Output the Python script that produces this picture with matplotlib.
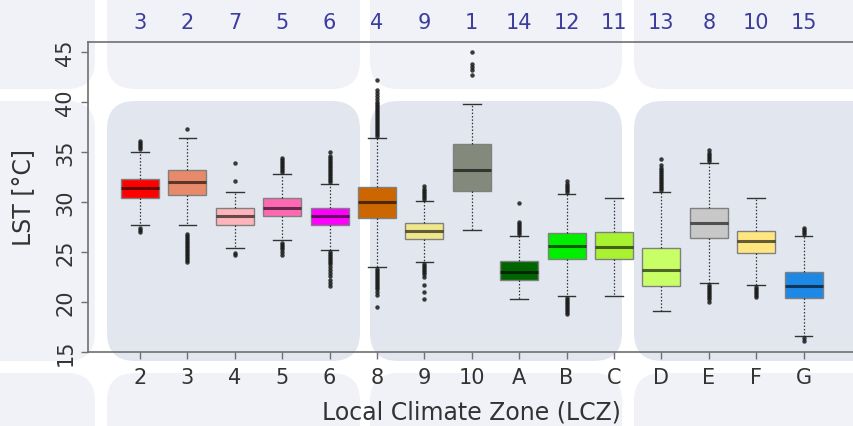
import matplotlib
matplotlib.use('Agg')
import matplotlib.pyplot as plt
from matplotlib.patches import FancyBboxPatch

# LCZ classes, in plotting order, with their rank labels shown above
zones = ['2', '3', '4', '5', '6', '8', '9', '10', 'A', 'B', 'C', 'D', 'E', 'F', 'G']
ranks = ['3', '2', '7', '5', '6', '4', '9', '1', '14', '12', '11', '13', '8', '10', '15']
colors = ['#ff0000', '#e8896a', '#ffb3ba', '#ff69b4', '#ff00ff', '#cc6600', '#f0e68c',
          '#838a7c', '#006400', '#00ee00', '#a8f232', '#c8ff66', '#c8c8c8', '#ffe680', '#1e88e5']

# box statistics (LST, deg C)
q1 = [30.4, 30.7, 27.7, 28.6, 27.7, 28.4, 26.3, 31.1, 22.2, 24.3, 24.3, 21.6, 26.4, 24.9, 20.4]
med = [31.4, 32.0, 28.6, 29.4, 28.6, 30.0, 27.1, 33.2, 23.0, 25.6, 25.5, 23.2, 27.9, 26.1, 21.6]
q3 = [32.3, 33.2, 29.4, 30.4, 29.4, 31.5, 27.9, 35.8, 24.1, 26.9, 27.0, 25.4, 29.4, 27.1, 23.0]
whislo = [27.7, 27.7, 25.4, 26.2, 25.2, 23.5, 24.0, 27.2, 20.3, 20.6, 20.6, 19.1, 21.9, 21.7, 16.6]
whishi = [35.0, 36.4, 31.0, 32.8, 31.8, 36.4, 30.1, 39.8, 26.6, 30.8, 30.4, 31.0, 33.9, 30.4, 26.6]

fliers = [
    [35.3, 35.5, 35.7, 35.9, 36.1, 27.4, 27.2, 27.0],
    [37.3, 26.8, 26.6, 26.4, 26.2, 26.0, 25.8, 25.6, 25.4, 25.2, 25.0, 24.8, 24.6, 24.4, 24.2, 24.0],
    [32.1, 33.9, 24.9, 24.7],
    [33.0, 33.2, 33.4, 33.6, 33.8, 34.0, 34.2, 34.4, 25.9, 25.7, 25.5, 25.3, 25.0, 24.7],
    [32.0, 32.2, 32.4, 32.6, 32.8, 33.0, 33.2, 33.4, 33.6, 33.8, 34.0, 34.2, 34.4, 34.6, 35.0,
     25.0, 24.8, 24.6, 24.4, 24.2, 24.0, 23.8, 23.5, 23.2, 22.9, 22.6, 22.2, 21.9, 21.6],
    [36.6, 36.8, 37.0, 37.2, 37.4, 37.6, 37.8, 38.0, 38.2, 38.4, 38.6, 38.8, 39.0, 39.2, 39.4,
     39.6, 39.8, 40.0, 40.3, 40.6, 40.9, 41.2, 42.2,
     23.3, 23.1, 22.9, 22.7, 22.5, 22.3, 22.1, 21.9, 21.7, 21.5, 21.3, 21.0, 20.7, 19.5],
    [30.3, 30.5, 30.7, 30.9, 31.1, 31.3, 31.6, 23.8, 23.6, 23.4, 23.2, 23.0, 22.8, 22.5, 21.7,
     21.0, 20.3],
    [42.7, 43.2, 43.5, 43.8, 45.0],
    [26.8, 27.0, 27.2, 27.4, 27.6, 27.8, 28.0, 29.9],
    [31.0, 31.2, 31.4, 31.6, 31.8, 32.1, 20.4, 20.2, 20.0, 19.8, 19.6, 19.4, 19.2, 19.0, 18.8],
    [],
    [31.2, 31.4, 31.6, 31.8, 32.0, 32.2, 32.4, 32.6, 32.8, 33.0, 33.2, 33.4, 33.7, 34.3],
    [34.1, 34.3, 34.5, 34.7, 34.9, 35.2, 21.7, 21.5, 21.3, 21.1, 20.9, 20.7, 20.5, 20.3, 20.0],
    [21.5, 21.3, 21.1, 20.9, 20.7, 20.5],
    [26.8, 27.0, 27.2, 27.4, 16.4, 16.1],
]

W, H = 854, 427
fig = plt.figure(figsize=(W / 100, H / 100), dpi=100)
fig.patch.set_facecolor('white')

# rounded background tiles on a full-figure axes, pixel units from the top-left
bg = fig.add_axes([0, 0, 1, 1], zorder=-1)
bg.set_xlim(0, W)
bg.set_ylim(H, 0)
bg.axis('off')
tile_cols = [(-30, 95), (107, 360), (370, 622), (634, 890)]
tile_rows = [(-30, 90), (102, 362), (374, 460)]
for r, (y0, y1) in enumerate(tile_rows):
    for c, (x0, x1) in enumerate(tile_cols):
        shade = '#e2e7ef' if (r == 1 and c > 0) else '#f0f2f7'
        bg.add_patch(FancyBboxPatch((x0, y0), x1 - x0, y1 - y0,
                                    boxstyle='round,pad=0,rounding_size=28',
                                    facecolor=shade, edgecolor='none'))

ax = fig.add_axes([88 / W, (H - 353) / H, (W - 88) / W, 310 / H])
ax.patch.set_alpha(0)

stats = []
for i, z in enumerate(zones):
    stats.append(dict(label=z, q1=q1[i], med=med[i], q3=q3[i],
                      whislo=whislo[i], whishi=whishi[i], fliers=fliers[i]))

pos = list(range(1, len(zones) + 1))
bp = ax.bxp(stats, positions=pos, widths=0.8, patch_artist=True, showfliers=True,
            boxprops=dict(edgecolor='#808080', linewidth=1.0),
            medianprops=dict(color='black', alpha=0.6, linewidth=2.2),
            whiskerprops=dict(color='#333333', linestyle=(0, (1.2, 1.5)), linewidth=0.9),
            capprops=dict(color='#333333', linewidth=1.0),
            capwidths=0.37,
            flierprops=dict(marker='o', markersize=2.8, markerfacecolor='#1a1a1a',
                            markeredgecolor='#1a1a1a', markeredgewidth=0.3, alpha=0.85))
for patch, col in zip(bp['boxes'], colors):
    patch.set_facecolor(col)

ax.set_xlim(1 - 52 / 47.4, 1 + (W - 140) / 47.4)
ax.set_ylim(15, 46)
ax.set_yticks([15, 20, 25, 30, 35, 40, 45])
ax.set_xticks(pos)
ax.set_xticklabels(zones)

for s in ['left', 'bottom', 'top']:
    ax.spines[s].set_color('#707070')
    ax.spines[s].set_linewidth(1.2)
ax.spines['right'].set_visible(False)
ax.tick_params(axis='both', colors='#707070', labelcolor='#333333', labelsize=15,
               length=5, width=1)
ax.tick_params(axis='x', pad=6)
ax.tick_params(axis='y', pad=4)
for lab in ax.get_yticklabels():
    lab.set_rotation(90)
    lab.set_va('center')

ax.set_ylabel('LST [°C]', fontsize=17, color='#333333', labelpad=15)
ax.set_xlabel('Local Climate Zone (LCZ)', fontsize=17, color='#333333', labelpad=9)

# rank of each class, printed above the panel
for p, rk in zip(pos, ranks):
    ax.text(p, 1.064, rk, transform=ax.get_xaxis_transform(), ha='center', va='center',
            fontsize=15, color='#3c3c9c')

plt.savefig('out.png', dpi=100)
